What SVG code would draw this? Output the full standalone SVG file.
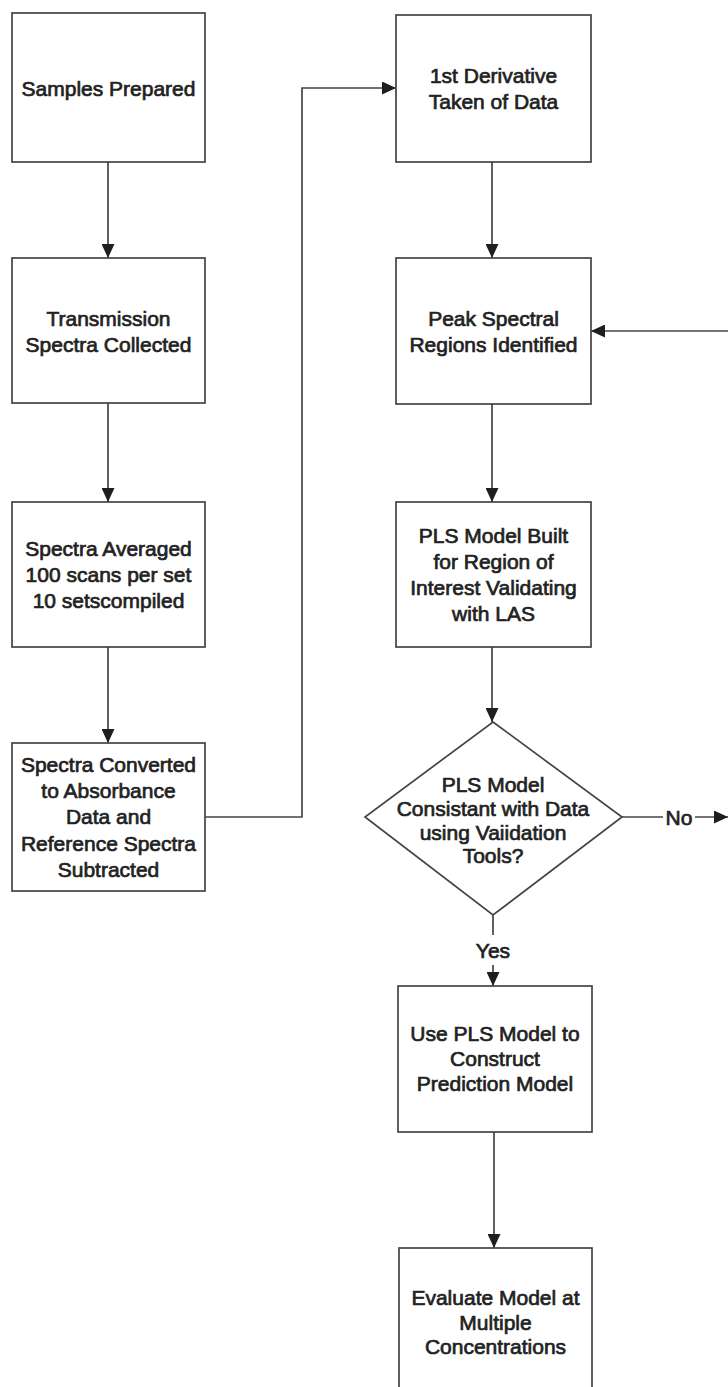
<svg xmlns="http://www.w3.org/2000/svg" width="728" height="1387" viewBox="0 0 728 1387">
  <style>
    .box { fill: #ffffff; stroke: #444444; stroke-width: 1.7; }
    .edge { fill: none; stroke: #444444; stroke-width: 1.7; }
    text { font-family: "Liberation Sans", Arial, sans-serif; font-size: 21px; fill: #222222; stroke: #222222; stroke-width: 0.7; text-anchor: middle; }
  </style>
  <defs>
    <marker id="arrow" markerUnits="userSpaceOnUse" markerWidth="15" markerHeight="13" refX="14" refY="6.5" orient="auto">
      <path d="M0,0 L14,6.5 L0,13 z" fill="#1e1e1e"/>
    </marker>
  </defs>
  <rect width="728" height="1387" fill="#ffffff"/>

  <!-- connectors -->
  <g id="connectors">
    <line class="edge" x1="108" y1="162" x2="108" y2="258" marker-end="url(#arrow)"/>
    <line class="edge" x1="108" y1="403" x2="108" y2="502" marker-end="url(#arrow)"/>
    <line class="edge" x1="108" y1="647" x2="108" y2="743" marker-end="url(#arrow)"/>
    <path class="edge" d="M205 817 H302 V88 H396" marker-end="url(#arrow)"/>
    <line class="edge" x1="492" y1="162" x2="492" y2="258" marker-end="url(#arrow)"/>
    <line class="edge" x1="728" y1="331" x2="591" y2="331" marker-end="url(#arrow)"/>
    <line class="edge" x1="492" y1="404" x2="492" y2="502" marker-end="url(#arrow)"/>
    <line class="edge" x1="492" y1="647" x2="492" y2="722" marker-end="url(#arrow)"/>
    <line class="edge" x1="622" y1="817" x2="663" y2="817"/>
    <text x="679" y="825">No</text>
    <line class="edge" x1="695" y1="817" x2="728" y2="817" marker-end="url(#arrow)"/>
    <line class="edge" x1="493" y1="915" x2="493" y2="935"/>
    <text x="493" y="958">Yes</text>
    <line class="edge" x1="493" y1="965" x2="493" y2="986" marker-end="url(#arrow)"/>
    <line class="edge" x1="494" y1="1132" x2="494" y2="1248" marker-end="url(#arrow)"/>
  </g>

  <g id="samples-prepared">
    <rect class="box" x="12" y="13" width="193" height="149"/>
    <text x="108.5" y="95.5">Samples Prepared</text>
  </g>

  <g id="transmission-spectra">
    <rect class="box" x="12" y="258" width="193" height="145"/>
    <text x="108.5" y="325.5">Transmission</text>
    <text x="108.5" y="352">Spectra Collected</text>
  </g>

  <g id="spectra-averaged">
    <rect class="box" x="12" y="502" width="193" height="145"/>
    <text x="108.5" y="555.5">Spectra Averaged</text>
    <text x="108.5" y="581.5">100 scans per set</text>
    <text x="108.5" y="607.5">10 setscompiled</text>
  </g>

  <g id="spectra-converted">
    <rect class="box" x="12" y="743" width="193" height="148"/>
    <text x="108.5" y="771.5">Spectra Converted</text>
    <text x="108.5" y="797.5">to Absorbance</text>
    <text x="108.5" y="824">Data and</text>
    <text x="108.5" y="850.5">Reference Spectra</text>
    <text x="108.5" y="876.5">Subtracted</text>
  </g>

  <g id="first-derivative">
    <rect class="box" x="396" y="15" width="195" height="147"/>
    <text x="493.5" y="82.5">1st Derivative</text>
    <text x="493.5" y="109">Taken of Data</text>
  </g>

  <g id="peak-regions">
    <rect class="box" x="396" y="258" width="195" height="146"/>
    <text x="493.5" y="325.5">Peak Spectral</text>
    <text x="493.5" y="352">Regions Identified</text>
  </g>

  <g id="pls-model-built">
    <rect class="box" x="396" y="502" width="195" height="145"/>
    <text x="493.5" y="542.5">PLS Model Built</text>
    <text x="493.5" y="568.5">for Region of</text>
    <text x="493.5" y="594.5">Interest Validating</text>
    <text x="493.5" y="620.5">with LAS</text>
  </g>

  <g id="pls-consistent">
    <polygon class="box" points="493,722 622,817 493,915 365,817"/>
    <text x="493" y="792">PLS Model</text>
    <text x="493" y="815.5">Consistant with Data</text>
    <text x="493" y="839.5">using Vaiidation</text>
    <text x="493" y="863">Tools?</text>
  </g>

  <g id="prediction-model">
    <rect class="box" x="398" y="986" width="194" height="146"/>
    <text x="495" y="1040.5">Use PLS Model to</text>
    <text x="495" y="1065.5">Construct</text>
    <text x="495" y="1090.5">Prediction Model</text>
  </g>

  <g id="evaluate-model">
    <rect class="box" x="399" y="1248" width="193" height="160"/>
    <text x="495.5" y="1304.5">Evaluate Model at</text>
    <text x="495.5" y="1329.5">Multiple</text>
    <text x="495.5" y="1353.5">Concentrations</text>
  </g>
</svg>
